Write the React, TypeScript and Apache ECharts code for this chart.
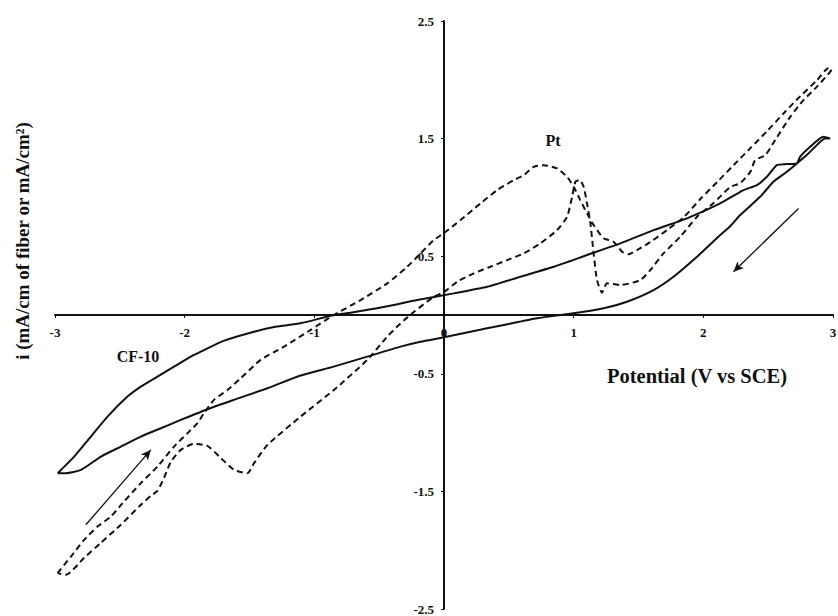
import React, { useEffect, useRef } from "react";
import * as echarts from "echarts";

// x ticks (V vs SCE) and y ticks (mA/cm)
const xTicks = [-3, -2, -1, 0, 1, 2, 3];
const yTicks = [-2.5, -1.5, -0.5, 0.5, 1.5, 2.5];

// CF-10 (solid) : forward branch (lower) from -3 V to +3 V
const cf10Forward: number[][] = [
  [-2.98, -1.345], [-2.916, -1.345], [-2.8, -1.317], [-2.646, -1.204], [-2.492, -1.119],
  [-2.338, -1.034], [-2.184, -0.963], [-2.03, -0.892], [-1.824, -0.801], [-1.622, -0.722],
  [-1.362, -0.623], [-1.106, -0.515], [-0.851, -0.439], [-0.592, -0.354], [-0.335, -0.269],
  [-0.181, -0.227], [0, -0.19], [0.204, -0.142], [0.461, -0.085], [0.718, -0.028],
  [1.0, 0.014], [1.231, 0.057], [1.411, 0.113], [1.616, 0.212], [1.77, 0.325],
  [1.951, 0.495], [2.13, 0.68], [2.207, 0.755], [2.284, 0.85], [2.438, 1.005],
  [2.541, 1.133], [2.644, 1.218], [2.721, 1.289], [2.81, 1.374], [2.888, 1.459],
  [2.939, 1.501], [2.978, 1.501],
];
// CF-10 (solid) : reverse branch (upper) from +3 V back to -3 V
const cf10Reverse: number[][] = [
  [2.978, 1.501], [2.926, 1.515], [2.824, 1.43], [2.746, 1.345], [2.721, 1.289],
  [2.644, 1.283], [2.567, 1.274], [2.49, 1.175], [2.413, 1.105], [2.31, 1.062],
  [2.13, 0.949], [1.874, 0.822], [1.616, 0.722], [1.36, 0.609], [1.103, 0.51],
  [0.846, 0.41], [0.589, 0.325], [0.333, 0.24], [0.075, 0.184], [-0.207, 0.127],
  [-0.466, 0.068], [-0.72, 0.02], [-0.849, 0], [-1.106, -0.07], [-1.3, -0.1],
  [-1.465, -0.142], [-1.7, -0.22], [-1.876, -0.312], [-1.953, -0.354], [-2.082, -0.439],
  [-2.21, -0.524], [-2.338, -0.609], [-2.441, -0.694], [-2.595, -0.864], [-2.723, -1.034],
  [-2.852, -1.204], [-2.98, -1.345],
];

// Pt (dashed) : forward branch
const ptForward: number[][] = [
  [-2.98, -2.195], [-2.877, -2.054], [-2.775, -1.912], [-2.672, -1.799], [-2.569, -1.714],
  [-2.479, -1.6], [-2.338, -1.43], [-2.21, -1.289], [-2.082, -1.119], [-1.978, -1.005],
  [-1.901, -0.92], [-1.851, -0.835], [-1.774, -0.722], [-1.67, -0.637], [-1.568, -0.538],
  [-1.414, -0.382], [-1.234, -0.269], [-1.029, -0.127], [-0.849, 0], [-0.643, 0.127],
  [-0.438, 0.269], [-0.284, 0.41], [-0.181, 0.524], [-0.079, 0.637], [0, 0.697],
  [0.127, 0.807], [0.281, 0.949], [0.41, 1.062], [0.538, 1.147], [0.615, 1.189],
  [0.692, 1.26], [0.769, 1.274], [0.872, 1.246], [0.949, 1.175], [1.0, 1.09],
  [1.051, 0.977], [1.103, 0.864], [1.154, 0.765], [1.231, 0.652], [1.308, 0.623],
  [1.373, 0.538], [1.424, 0.516], [1.488, 0.552], [1.591, 0.62], [1.72, 0.722],
  [1.85, 0.833], [1.977, 0.986], [2.106, 1.13], [2.234, 1.275], [2.363, 1.419],
  [2.491, 1.563], [2.62, 1.716], [2.748, 1.861], [2.877, 1.997], [2.964, 2.099],
  [2.99, 2.09],
];
// Pt (dashed) : reverse branch
const ptReverse: number[][] = [
  [2.99, 2.09], [2.978, 2.067], [2.875, 1.94], [2.772, 1.827], [2.67, 1.685],
  [2.554, 1.487], [2.477, 1.359], [2.4, 1.317], [2.361, 1.215], [2.284, 1.121],
  [2.207, 1.088], [2.079, 0.952], [1.951, 0.835], [1.822, 0.665], [1.693, 0.524],
  [1.591, 0.382], [1.514, 0.297], [1.36, 0.255], [1.257, 0.269], [1.219, 0.189],
  [1.18, 0.297], [1.154, 0.524], [1.129, 0.779], [1.103, 0.949], [1.077, 1.09],
  [1.046, 1.147], [1.013, 1.133], [0.988, 1.005], [0.949, 0.835], [0.872, 0.722],
  [0.743, 0.609], [0.615, 0.524], [0.487, 0.467], [0.358, 0.41], [0.23, 0.354],
  [0.102, 0.283], [0, 0.195], [-0.079, 0.155], [-0.233, 0.025], [-0.335, -0.071],
  [-0.438, -0.184], [-0.592, -0.382], [-0.849, -0.637], [-1.106, -0.864], [-1.362, -1.105],
  [-1.465, -1.26], [-1.516, -1.345], [-1.619, -1.317], [-1.722, -1.215], [-1.824, -1.113],
  [-1.928, -1.096], [-2.03, -1.147], [-2.107, -1.249], [-2.159, -1.385], [-2.21, -1.495],
  [-2.261, -1.538], [-2.338, -1.614], [-2.492, -1.784], [-2.646, -1.937], [-2.775, -2.065],
  [-2.916, -2.209], [-2.98, -2.195],
];

// scan-direction arrows (data coordinates: from -> to)
const arrowForward = [[-2.762, -1.784], [-2.261, -1.147]];
const arrowReverse = [[2.734, 0.906], [2.233, 0.368]];

// annotation texts
const yTitle = "i (mA/cm of fiber or mA/cm\u00B2)";
const xTitle = "Potential (V vs SCE)";
const labelPt = "Pt";
const labelCF = "CF-10";

const SERIF = '"Liberation Serif", "Times New Roman", serif';
const INK = "#111";

// grid geometry (pixels)
const GRID_LEFT = 55;
const GRID_RIGHT = 5;
const GRID_TOP = 21;
const GRID_BOTTOM = 7;
const W = 838;
const H = 616;

export default function App() {
  const ref = useRef<HTMLDivElement>(null);
  useEffect(() => {
    document.body.style.margin = "0";
    const chart = echarts.init(ref.current!, null, { renderer: "svg" });
    const plotW = W - GRID_LEFT - GRID_RIGHT;
    const plotH = H - GRID_TOP - GRID_BOTTOM;
    const xMin = xTicks[0];
    const xMax = xTicks[xTicks.length - 1];
    const yMin = yTicks[0];
    const yMax = yTicks[yTicks.length - 1];
    // move the axes so that they cross at the origin
    const xAxisOffset = -((0 - yMin) / (yMax - yMin)) * plotH;
    const yAxisOffset = -((0 - xMin) / (xMax - xMin)) * plotW;
    const axisCommon = {
      type: "value" as const,
      axisLine: { show: true, onZero: false, lineStyle: { color: INK, width: 2 } },
      axisTick: { show: true, length: 3, lineStyle: { color: INK, width: 1 } },
      axisLabel: {
        fontFamily: SERIF,
        fontWeight: "bold" as const,
        fontSize: 13,
        color: INK,
        showMinLabel: true,
        showMaxLabel: true,
      },
      splitLine: { show: false },
    };
    chart.setOption({
      animation: false,
      backgroundColor: "#ffffff",
      grid: {
        left: GRID_LEFT,
        right: GRID_RIGHT,
        top: GRID_TOP,
        bottom: GRID_BOTTOM,
        containLabel: false,
        outerBoundsMode: "none",
      },
      xAxis: {
        ...axisCommon,
        position: "bottom",
        offset: xAxisOffset,
        min: xMin,
        max: xMax,
        interval: 1,
        axisLabel: { ...axisCommon.axisLabel, margin: 11 },
      },
      yAxis: {
        ...axisCommon,
        position: "left",
        offset: yAxisOffset,
        min: yMin,
        max: yMax,
        interval: 1,
        axisLabel: { ...axisCommon.axisLabel, margin: 10 },
      },
      series: [
        {
          name: "CF-10",
          type: "line",
          data: [...cf10Forward, ...cf10Reverse.slice(1)],
          showSymbol: false,
          smooth: 0.2,
          lineStyle: { color: INK, width: 2 },
          markLine: {
            silent: true,
            symbol: ["none", "arrow"],
            symbolSize: [7, 10],
            label: { show: false },
            lineStyle: { color: INK, width: 1.3, type: "solid" },
            data: [
              [{ coord: arrowForward[0] }, { coord: arrowForward[1] }],
              [{ coord: arrowReverse[0] }, { coord: arrowReverse[1] }],
            ],
          },
        },
        {
          name: "Pt",
          type: "line",
          data: [...ptForward, ...ptReverse.slice(1)],
          showSymbol: false,
          smooth: 0.2,
          lineStyle: { color: INK, width: 2, type: [6, 4] },
        },
      ],
      graphic: [
        {
          type: "text",
          x: 22,
          y: 241,
          rotation: Math.PI / 2,
          style: {
            text: yTitle,
            font: `bold 19px ${SERIF}`,
            fill: INK,
            align: "center",
            verticalAlign: "middle",
            textAlign: "center",
            textVerticalAlign: "middle",
          },
        },
        {
          type: "text",
          x: 697,
          y: 376,
          style: {
            text: xTitle,
            font: `bold 20.5px ${SERIF}`,
            fill: INK,
            align: "center",
            verticalAlign: "middle",
            textAlign: "center",
            textVerticalAlign: "middle",
          },
        },
        {
          type: "text",
          x: 553,
          y: 140,
          style: {
            text: labelPt,
            font: `bold 16px ${SERIF}`,
            fill: INK,
            align: "center",
            verticalAlign: "middle",
            textAlign: "center",
            textVerticalAlign: "middle",
          },
        },
        {
          type: "text",
          x: 138,
          y: 356,
          style: {
            text: labelCF,
            font: `bold 16px ${SERIF}`,
            fill: INK,
            align: "center",
            verticalAlign: "middle",
            textAlign: "center",
            textVerticalAlign: "middle",
          },
        },
      ],
    });
    return () => chart.dispose();
  }, []);
  return <div ref={ref} style={{ width: W, height: H }} />;
}
